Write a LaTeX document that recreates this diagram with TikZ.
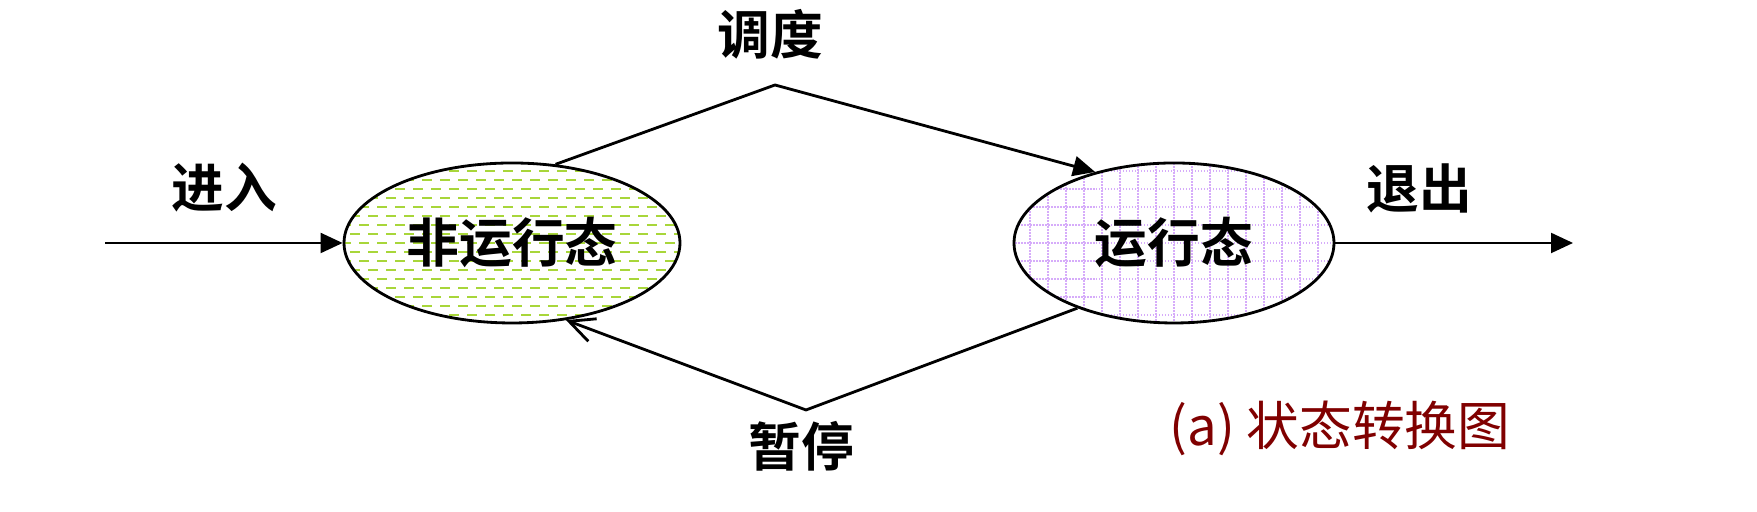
\documentclass[tikz,border=0pt]{standalone}
\usepackage{fontspec}
\newfontfamily\cjk{Noto Sans CJK SC}[BoldFont={Noto Sans CJK SC Bold}]
\usetikzlibrary{shapes.geometric, arrows.meta, backgrounds}
\definecolor{dashgreen}{RGB}{168,214,58}
\definecolor{gridviolet}{RGB}{214,172,250}
\definecolor{capred}{RGB}{128,0,0}
\tikzset{>={Triangle[length=0.22cm, width=0.2cm]}}
\tikzset{
  lbl/.style={font=\cjk\bfseries\fontsize{15}{18}\selectfont, inner sep=0pt},
  statebox/.style={ellipse, draw, line width=0.8pt, inner sep=0pt, lbl},
  greendash/.style={dashgreen, line width=0.025cm, dash pattern=on 0.1cm off 0.08cm},
  violetdot/.style={gridviolet, line width=0.018cm, dash pattern=on 0.015cm off 0.015cm},
}

\begin{document}
\begin{tikzpicture}
	\useasboundingbox (0,0) rectangle (17.57,5.12);
	% states
	\node[statebox, minimum width=3.36cm, minimum height=1.6cm] (nonrun) at (5.12, 2.69) {非运行态};
	\node[statebox, minimum width=3.2cm, minimum height=1.6cm] (run) at (11.74, 2.69) {运行态};
	% fill patterns
	\begin{scope}[on background layer]
		\begin{scope}[shift={(nonrun.center)}]
			\clip (0,0) ellipse [x radius=1.68, y radius=0.8];
			\foreach \i in {0,...,18}
				\draw[greendash, dash phase={mod(\i,2)*0.09cm}] (-1.8, -0.81+0.09*\i) -- (1.8, -0.81+0.09*\i);
		\end{scope}
		\begin{scope}[shift={(run.center)}]
			\clip (0,0) ellipse [x radius=1.6, y radius=0.8];
			\draw[violetdot, step=0.18cm] (-1.8,-0.9) grid (1.8,0.9);
		\end{scope}
	\end{scope}
	% enter / leave
	\coordinate (in) at (1.05, 2.69);
	\coordinate (out) at (15.73, 2.69);
	\draw[line width=0.6pt, ->] (in) -- (nonrun.west);
	\draw[line width=0.6pt, ->] (run.east) -- (out);
	\node[lbl] (enter) at (2.24, 3.24) {进入};
	\node[lbl] (leave) at (14.19, 3.24) {退出};
	% dispatch
	\coordinate (top) at (7.75, 4.27);
	\draw[line width=0.8pt, ->] (nonrun.61) -- (top) -- (run.138);
	\node[lbl] (dispatch) at (7.70, 4.78) {调度};
	% pause
	\coordinate (bot) at (8.06, 1.02);
	\draw[line width=0.8pt, -{Straight Barb[length=0.25cm, width=0.24cm]}] (run.214) -- (bot) -- (nonrun.-55);
	\node[lbl] (pause) at (8.01, 0.66) {暂停};
	% caption
	\node[lbl, font=\cjk\fontsize{15}{18}\selectfont, text=capred] (cap) at (13.40, 0.84) {(a) 状态转换图};
\end{tikzpicture}
\end{document}
